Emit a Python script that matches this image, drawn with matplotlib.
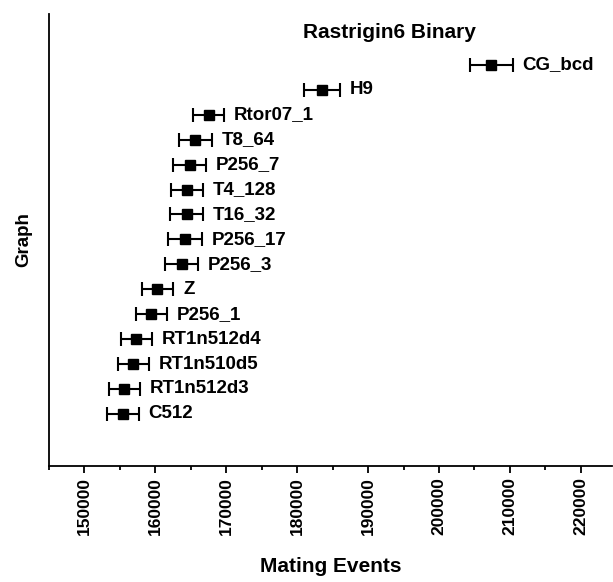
"""Rastrigin6 Binary: mean mating events per graph with error bars."""

import matplotlib

matplotlib.use("Agg")
import matplotlib.pyplot as plt
import matplotlib.ticker as mticker
import numpy as np

# Bottom to top, as drawn.
GRAPHS = [
    "C512", "RT1n512d3", "RT1n510d5", "RT1n512d4", "P256_1", "Z",
    "P256_3", "P256_17", "T16_32", "T4_128", "P256_7", "T8_64",
    "Rtor07_1", "H9", "CG_bcd",
]
MEAN_EVENTS = [
    155450, 155600, 156900, 157300, 159400, 160300,
    163700, 164150, 164400, 164450, 164850, 165650,
    167500, 183450, 207400,
]
ERR_EVENTS = [
    2200, 2200, 2200, 2200, 2200, 2250,
    2350, 2400, 2300, 2300, 2300, 2350,
    2250, 2550, 3000,
]
X_TICKS = [150000, 160000, 170000, 180000, 190000, 200000, 210000, 220000]

plt.rcParams.update({
    "font.family": ["Liberation Sans", "DejaVu Sans"],
    "font.weight": "bold",
    "axes.linewidth": 1.3,
})

fig = plt.figure(figsize=(6.13, 5.82), dpi=100)
ax = fig.add_axes([49 / 613, 1 - 466 / 582, 563 / 613, 452 / 582])

y = np.arange(1, len(GRAPHS) + 1)
ax.errorbar(
    MEAN_EVENTS, y, xerr=ERR_EVENTS,
    fmt="s", color="black", markersize=6.5,
    elinewidth=1.5, capsize=4.8, capthick=1.5,
)
for name, mean, err, yy in zip(GRAPHS, MEAN_EVENTS, ERR_EVENTS, y):
    ax.annotate(name, (mean + err, yy), xytext=(7, 0), textcoords="offset points",
                ha="left", va="center", fontsize=13.5, fontweight="bold")

ax.text(0.605, 0.96, "Rastrigin6 Binary", transform=ax.transAxes,
        ha="center", va="center", fontsize=15, fontweight="bold")

ax.set_xlim(145000, 224400)
ax.set_ylim(-1.09, 17.04)
ax.set_xticks(X_TICKS)
ax.set_xticklabels([str(t) for t in X_TICKS], rotation=90, fontsize=12.5, fontweight="bold")
ax.xaxis.set_minor_locator(mticker.MultipleLocator(5000))
ax.tick_params(axis="x", which="major", length=5, width=1.3, direction="out", pad=3)
ax.tick_params(axis="x", which="minor", length=3, width=1.3, direction="out")
ax.set_yticks([])

for side in ("top", "right"):
    ax.spines[side].set_visible(False)

ax.set_xlabel("Mating Events", fontsize=15, fontweight="bold", labelpad=16)
ax.set_ylabel("Graph", fontsize=13.5, fontweight="bold", labelpad=12)

fig.savefig("out.png", dpi=100)
